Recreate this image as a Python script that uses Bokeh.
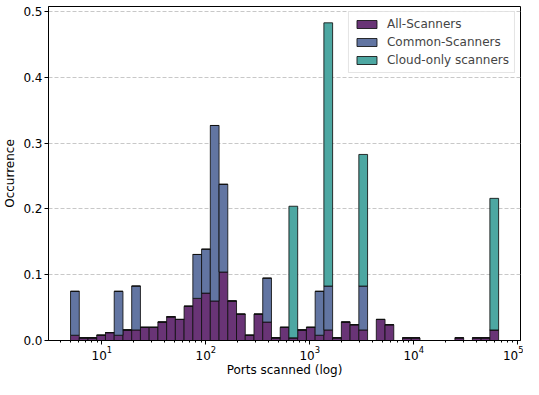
import numpy as np
from bokeh.plotting import figure
from bokeh.models import Range1d, FixedTicker, PrintfTickFormatter, ColumnDataSource
from bokeh.transform import stack
from bokeh.embed import file_html
from bokeh.resources import INLINE

# ---- data ----
port_min = 5
port_max = 65535
n_bins = 49

all_scanners = [0.008, 0.004, 0.004, 0.008, 0.012, 0.008, 0.016, 0.016, 0.020, 0.020,
                0.028, 0.036, 0.032, 0.052, 0.064, 0.072, 0.060, 0.104, 0.060, 0.040,
                0.008, 0.040, 0.028, 0.004, 0.020, 0.004, 0.016, 0.020, 0.008, 0.016,
                0.004, 0.028, 0.024, 0.016, 0.000, 0.032, 0.024, 0.000, 0.004, 0.004,
                0.000, 0.000, 0.000, 0.000, 0.004, 0.000, 0.004, 0.004, 0.016]

common_scanners = [0.0667, 0, 0, 0, 0, 0.0667, 0, 0.0667, 0, 0,
                   0, 0, 0, 0, 0.0667, 0.0667, 0.2667, 0.1333, 0, 0,
                   0, 0, 0.0667, 0, 0, 0, 0, 0, 0.0667, 0.0667,
                   0, 0, 0, 0.0667, 0, 0, 0, 0, 0, 0,
                   0, 0, 0, 0, 0, 0, 0, 0, 0]

cloud_only = [0, 0, 0, 0, 0, 0, 0, 0, 0, 0,
              0, 0, 0, 0, 0, 0, 0, 0, 0, 0,
              0, 0, 0, 0, 0, 0.2, 0, 0, 0, 0.4,
              0, 0, 0, 0.2, 0, 0, 0, 0, 0, 0,
              0, 0, 0, 0, 0, 0, 0, 0, 0.2]

series_names = ["All-Scanners", "Common-Scanners", "Cloud-only scanners"]
series_colors = ["#693476", "#6275a2", "#4da7a2"]

x_major_ticks = [10, 100, 1000, 10000, 100000]
y_ticks = [0.0, 0.1, 0.2, 0.3, 0.4, 0.5]

# ---- build ----
edges = np.logspace(np.log10(port_min), np.log10(port_max), n_bins + 1)
source = ColumnDataSource(dict(
    left=edges[:-1], right=edges[1:],
    all=all_scanners, common=common_scanners, cloud=cloud_only,
))

FONT = "DejaVu Sans"
FS = "12px"

p = figure(width=523, height=379, x_axis_type="log",
           x_range=Range1d(10 ** 0.487, 10 ** 5.027),
           y_range=Range1d(0, 0.5075),
           output_backend="svg", toolbar_location=None,
           min_border_left=43, min_border_right=3,
           min_border_top=6, min_border_bottom=30)

fields = ["all", "common", "cloud"]
for i, (f, name, col) in enumerate(zip(fields, series_names, series_colors)):
    p.quad(left="left", right="right",
           bottom=stack(*fields[:i]), top=stack(*fields[:i + 1]),
           source=source, fill_color=col, fill_alpha=1.0,
           line_color="#111111", line_width=1, line_alpha=0.85,
           legend_label=name)

# axes
p.xaxis.ticker = FixedTicker(
    ticks=x_major_ticks,
    minor_ticks=[d * 10 ** k for k in range(0, 5) for d in range(2, 10)])
p.yaxis.ticker = FixedTicker(ticks=y_ticks, minor_ticks=[])
p.yaxis.formatter = PrintfTickFormatter(format="%.1f")

p.xaxis.axis_label = "Ports scanned (log)"
p.yaxis.axis_label = "Occurrence"
for ax in (p.xaxis, p.yaxis):
    ax.axis_label_text_font = FONT
    ax.axis_label_text_font_size = FS
    ax.axis_label_text_font_style = "normal"
    ax.axis_label_text_color = "black"
    ax.major_label_text_font = FONT
    ax.major_label_text_font_size = FS
    ax.major_label_text_color = "black"
    ax.axis_line_color = "black"
    ax.major_tick_line_color = "black"
    ax.minor_tick_line_color = "black"
    ax.major_tick_in = 0
    ax.major_tick_out = 4
    ax.minor_tick_in = 0
    ax.minor_tick_out = 2
    ax.major_label_standoff = 2
    ax.axis_label_standoff = 3
p.xaxis.axis_label_standoff = 0
p.xaxis.major_label_standoff = 1

# grid
p.xgrid.visible = False
p.ygrid.grid_line_color = "#c8c8c8"
p.ygrid.grid_line_dash = "4 2"
p.ygrid.grid_line_width = 1

p.outline_line_color = "black"
p.outline_line_width = 1
p.outline_line_alpha = 1.0
p.background_fill_color = "white"
p.border_fill_color = "white"

# legend
lg = p.legend[0]
lg.location = "top_right"
lg.margin = 5
lg.padding = 5
lg.spacing = 4
lg.label_text_font = FONT
lg.label_text_font_size = FS
lg.label_height = 13
lg.glyph_height = 10
lg.glyph_width = 25
lg.label_standoff = 8
lg.border_line_color = "#cccccc"
lg.border_line_width = 1
lg.background_fill_alpha = 0.8

open("out.html", "w").write(file_html(p, INLINE))
